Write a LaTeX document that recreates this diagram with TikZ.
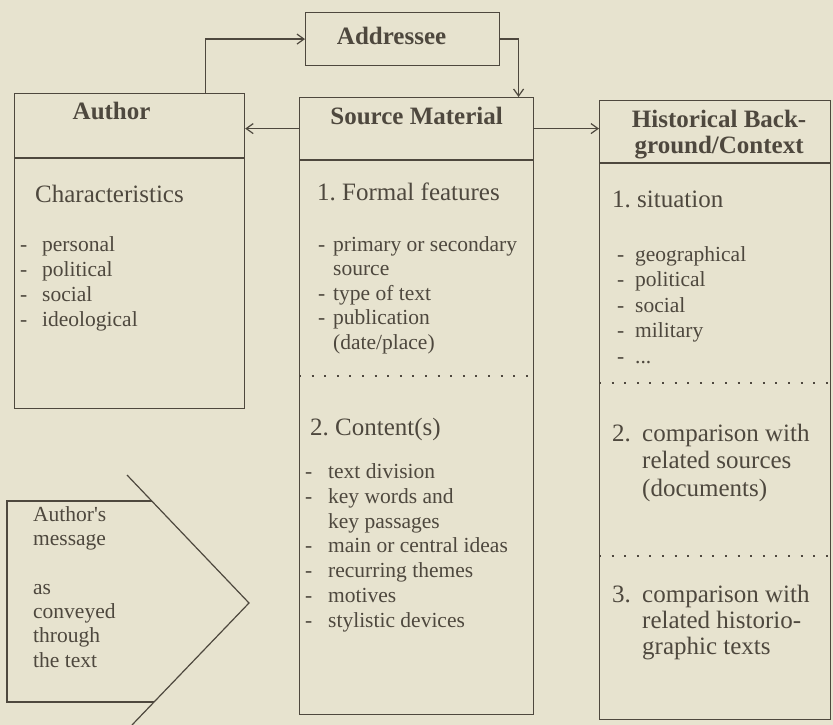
\documentclass[tikz,border=0pt]{standalone}
\usepackage{fontspec}
\setmainfont{Liberation Serif}
\frenchspacing
\usetikzlibrary{arrows.meta,positioning}
\definecolor{paper}{RGB}{231,227,207}
\definecolor{ink}{RGB}{78,72,62}
\newcommand{\dashit}[1]{\makebox[#1pt][l]{-}}
\newcommand{\contit}[1]{\hspace*{#1pt}}
\tikzset{
  box/.style={draw=ink, line width=1.2pt, inner sep=0pt, anchor=north west},
  ln/.style={draw=ink, line width=1.2pt},
  head/.style={text=ink, inner sep=0pt, align=center, font=\fontsize{25}{26}\selectfont\bfseries},
  sect/.style={text=ink, inner sep=0pt, align=left, anchor=base west, font=\fontsize{25}{#1}\selectfont},
  sect/.default=27,
  items/.style={text=ink, inner sep=0pt, align=left, anchor=base west, font=\fontsize{21.5}{#1}\selectfont},
  items/.default=24.8,
  sep/.style={ink, line width=2pt, dash pattern=on 2pt off 10.6pt},
  link/.style={ink, line width=1.2pt, -{Straight Barb[length=7pt,width=10pt]}},
}
\begin{document}
\begin{tikzpicture}[x=1pt, y=-1pt]
\useasboundingbox (0,0) rectangle (833,725);
\fill[paper] (0,0) rectangle (833,725);
% boxes
\draw (305,12) node[box, minimum width=194, minimum height=53] (addr) {};
\draw (14,93) node[box, minimum width=230, minimum height=64] (authhead) {};
\draw node[box, minimum width=230, minimum height=250, below=0pt of authhead] (authbody) {};
\draw (299,97) node[box, minimum width=234, minimum height=62] (srchead) {};
\draw node[box, minimum width=234, minimum height=554, below=0pt of srchead] (srcbody) {};
\draw (599,100) node[box, minimum width=231, minimum height=62] (histhead) {};
\draw node[box, minimum width=231, minimum height=556, below=0pt of histhead] (histbody) {};
\draw[sep] ([yshift=-216]srcbody.north west) -- ([yshift=-216]srcbody.north east);
\draw[sep] ([yshift=-220]histbody.north west) -- ([yshift=-220]histbody.north east);
\draw[sep] ([yshift=-393]histbody.north west) -- ([yshift=-393]histbody.north east);
% headers
\node[head] (addrtxt) at ([xshift=-11, yshift=3]addr.center) {Addressee};
\node[head] (authtxt) at ([xshift=-18, yshift=15]authhead.center) {Author};
\node[head] (srctxt) at ([yshift=13]srchead.center) {Source Material};
\node[head] (histtxt) at ([xshift=4, yshift=-3]histhead.center) {Historical Back-\\ground/Context};
% connectors
\draw[link] ([xshift=76]authhead.north) |- (addr.west);
\draw[link] (addr.east) -| ([xshift=102]srchead.north);
\draw[link] (srchead.west) -- (srchead.west -| authhead.east);
\draw[link] (srchead.east) -- (srchead.east -| histhead.west);
% author (lists are set on the baseline of their last line)
\node[sect] (authsec) at (35,202) {Characteristics};
\node[items=25] (authlist) at (20,326) {\dashit{22}personal\\\dashit{22}political\\\dashit{22}social\\\dashit{22}ideological};
% source material
\node[sect] (srcsec1) at (317,200) {1. Formal features};
\node[items=24.5] (srclist1) at (318,349) {\dashit{15}primary or secondary\\\contit{15}source\\\dashit{15}type of text\\\dashit{15}publication\\\contit{15}(date/place)};
\node[sect] (srcsec2) at (310,435) {2. Content(s)};
\node[items=24.7] (srclist2) at (305,627) {\dashit{23}text division\\\dashit{23}key words and\\\contit{23}key passages\\\dashit{23}main or central ideas\\\dashit{23}recurring themes\\\dashit{23}motives\\\dashit{23}stylistic devices};
% historical background
\node[sect] (histsec1) at (612,207) {1. situation};
\node[items=25.5] (histlist) at (617,363) {\dashit{18}geographical\\\dashit{18}political\\\dashit{18}social\\\dashit{18}military\\\dashit{18}...};
\node[sect=27.5] (histsec2) at (612,496) {\makebox[30pt][l]{2.}comparison with\\\contit{30}related sources\\\contit{30}(documents)};
\node[sect=26] (histsec3) at (612,654) {\makebox[30pt][l]{3.}comparison with\\\contit{30}related historio-\\\contit{30}graphic texts};
% author's message
\coordinate (msgtop) at (127,475); \coordinate (msgtip) at (249,603); \coordinate (msgbot) at (132,725);
\draw[ln] (152,501) -- (7,501) -- (7,702) -- (154,702);
\draw[ln] (msgtop) -- (msgtip) -- (msgbot);
\node[items=24.3] (msg) at (33,667) {Author\textquotesingle s\\message\\[24.3pt]as\\conveyed\\through\\the text};
\end{tikzpicture}
\end{document}
